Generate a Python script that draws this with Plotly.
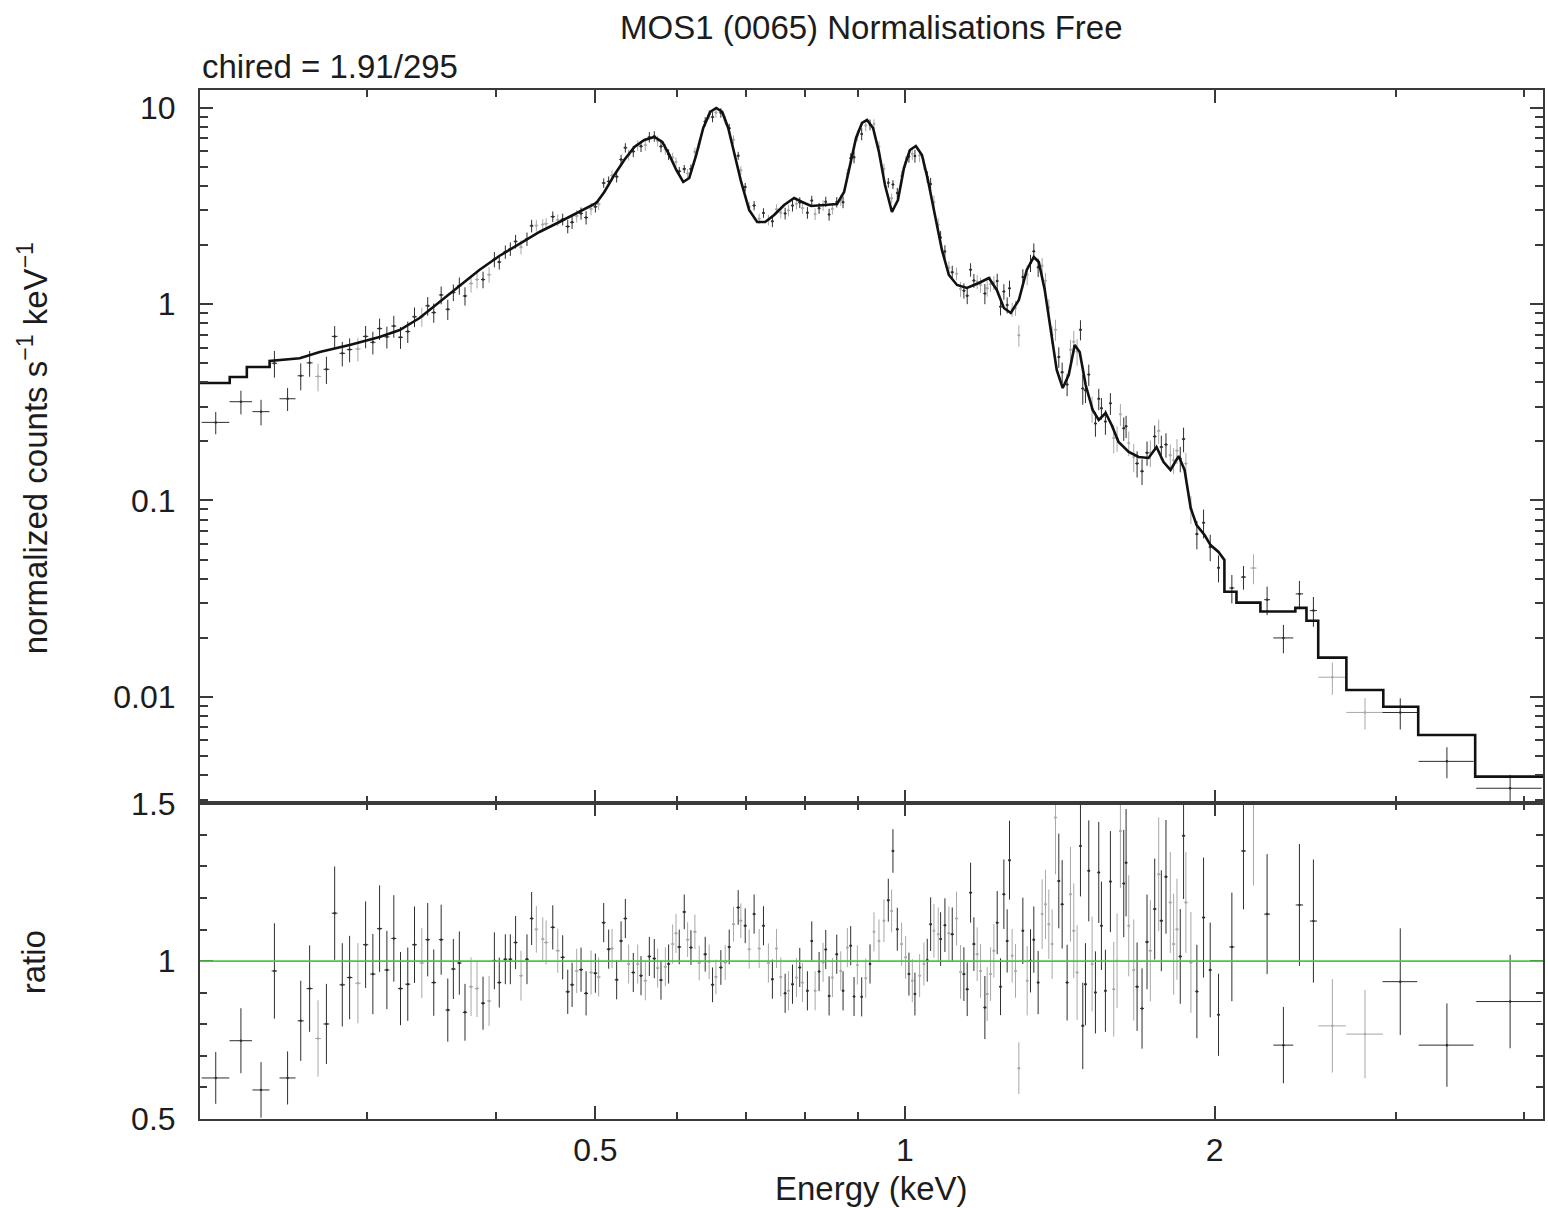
import numpy as np
import plotly.graph_objects as go

# ---------------------------------------------------------------------------
# Folded model (normalized counts s^-1 keV^-1) versus energy (keV)
# ---------------------------------------------------------------------------
MODEL_E = [0.2063, 0.2205, 0.2205, 0.2291, 0.2291, 0.2411, 0.2411, 0.2579, 0.2697, 0.2884,
           0.3084, 0.3226, 0.3373, 0.3527, 0.3689, 0.3856, 0.4032, 0.4219, 0.4411, 0.4613,
           0.4824, 0.5011,
           0.5101, 0.5217, 0.5334, 0.5456, 0.5579, 0.5705, 0.5808, 0.5900, 0.5993, 0.6087,
           0.6170, 0.6267, 0.6366, 0.6466, 0.6554, 0.6642, 0.6732, 0.6823, 0.6930, 0.7055,
           0.7183, 0.7312, 0.7461, 0.7630, 0.7803, 0.7943, 0.8105, 0.8344, 0.8590, 0.8726,
           0.8844, 0.8963, 0.9084, 0.9186, 0.9311, 0.9435, 0.9563, 0.9713, 0.9844, 0.9978,
           1.0112, 1.0247, 1.0388, 1.0528, 1.0694, 1.0863, 1.1034, 1.1236, 1.1487, 1.1800,
           1.2068, 1.2284, 1.2479, 1.2675, 1.2905, 1.3136, 1.3345, 1.3494, 1.3676, 1.3861,
           1.4047, 1.4237, 1.4429, 1.4624, 1.4788, 1.4988, 1.5224, 1.5432, 1.5673, 1.5885,
           1.6133, 1.6505, 1.6876, 1.7254, 1.7565, 1.7843, 1.8124, 1.8455, 1.8703, 1.8961,
           1.9212, 1.9559, 1.9822, 2.0180, 2.0448,
           2.0448, 2.1007, 2.1007, 2.2164, 2.2164, 2.3968, 2.3968, 2.4573,
           2.4573, 2.5228, 2.5228, 2.6869, 2.6869, 2.9184, 2.9184, 3.1558, 3.1558, 3.5851,
           3.5851, 4.1730]
MODEL_V = [0.3966, 0.3966, 0.4256, 0.4256, 0.4786, 0.4786, 0.513, 0.530, 0.5705, 0.619,
           0.680, 0.738, 0.849, 1.025, 1.251, 1.491, 1.757, 2.023, 2.328, 2.618,
           2.944, 3.272,
           3.722, 4.543, 5.417, 6.308, 6.847, 7.092, 6.689, 5.744, 4.818, 4.184,
           4.385, 5.744, 7.881, 9.508, 9.965, 9.508, 7.881, 5.950, 4.184, 3.014,
           2.618, 2.618, 2.842, 3.196, 3.469, 3.311, 3.159, 3.196, 3.234, 3.722,
           5.108, 7.010, 8.358, 8.657, 7.881, 5.950, 4.041, 2.943, 3.388, 4.932,
           6.089, 6.383, 5.744, 4.284, 2.842, 1.886, 1.406, 1.251, 1.208, 1.280,
           1.358, 1.180, 0.955, 0.901, 1.049, 1.491, 1.737, 1.638, 1.180, 0.738,
           0.4618, 0.3739, 0.4355, 0.6193, 0.5704, 0.3873, 0.2889, 0.2570, 0.2790, 0.2423,
           0.1986, 0.1765, 0.1665, 0.1646, 0.1873, 0.1570, 0.1430, 0.1684, 0.1430, 0.0916,
           0.0750, 0.0667, 0.0593, 0.0547, 0.0498,
           0.0343, 0.0343, 0.0302, 0.0302, 0.0272, 0.0272, 0.0284, 0.0284,
           0.0244, 0.0244, 0.01585, 0.01585, 0.01084, 0.01084, 0.00891, 0.00891, 0.0064, 0.0064,
           0.00393, 0.00393]

# ---------------------------------------------------------------------------
# Data set 1 (dark crosses): bin centre (keV), data/model ratio, ratio error,
# bin half-width (keV)
# ---------------------------------------------------------------------------
A_E = [0.2137, 0.2261, 0.2365, 0.2437, 0.2510, 0.2585, 0.2637, 0.2738, 0.2789, 0.2837,
       0.2884, 0.2989, 0.3038, 0.3084, 0.3135, 0.3184, 0.3232, 0.3285, 0.3335, 0.3435,
       0.3482, 0.3540, 0.3593, 0.3638, 0.3687, 0.3734, 0.3888, 0.3988, 0.4032, 0.4087,
       0.4133, 0.4182, 0.4290, 0.4335,
       0.4545, 0.4647, 0.4700, 0.4746, 0.4842, 0.4897, 0.5000, 0.5094, 0.5151, 0.5244,
       0.5296, 0.5347, 0.5443, 0.5538, 0.5642, 0.5705, 0.5791, 0.5891, 0.6033, 0.6101,
       0.6193, 0.6394, 0.6500, 0.6622, 0.6747, 0.6884, 0.6993, 0.7134, 0.7285, 0.7432,
       0.7647, 0.7774, 0.7902, 0.8038, 0.8117, 0.8251, 0.8375, 0.8438, 0.8584, 0.8706,
       0.8856, 0.8923, 0.9077, 0.9248,
       0.9634, 0.9735, 0.9830, 1.0090, 1.0226, 1.0512, 1.0592, 1.0831, 1.0936, 1.1117,
       1.1411, 1.1496, 1.1583, 1.1669, 1.1960, 1.2294, 1.2386, 1.2479, 1.2572, 1.2638,
       1.3021, 1.3246, 1.3345, 1.3475, 1.4113, 1.4219, 1.4378, 1.4814, 1.4891, 1.4980,
       1.5092, 1.5319, 1.5433, 1.5526, 1.5665, 1.5841, 1.6322, 1.6407, 1.6816, 1.7004,
       1.7195, 1.7493, 1.7755, 1.7940, 1.8524, 1.8661, 1.9226, 1.9515, 1.9808, 2.0180,
       2.0792, 2.1340, 2.2499, 2.3336, 2.4188, 2.4957, 3.0314, 3.3653, 3.8768]
A_R = [0.630, 0.748, 0.592, 0.969, 0.630, 0.811, 0.913, 0.801, 1.152, 0.925,
       0.948, 1.052, 0.959, 1.103, 0.972, 1.072, 0.913, 0.927, 1.052, 1.068,
       0.932, 1.068, 0.845, 0.975, 0.994, 0.838, 0.867, 1.001, 0.932, 1.006,
       1.006, 1.059, 1.006, 1.135,
       1.107, 1.012, 0.903, 0.925, 0.973, 0.898, 0.962, 1.122, 1.038, 0.941,
       1.064, 1.135, 0.964, 0.954, 1.015, 1.008, 0.940, 0.991, 1.045, 1.156,
       1.043, 1.022, 0.925, 0.980, 1.045, 1.170, 1.112, 1.149, 1.112, 0.943,
       0.898, 0.927, 0.980, 0.906, 1.064, 0.967, 1.037, 0.890, 1.022, 0.906,
       1.049, 0.888, 0.887, 0.991,
       1.193, 1.349, 1.101, 0.959, 0.896, 1.003, 1.117, 1.070, 1.114, 1.085,
       0.959, 0.911, 1.217, 1.054, 0.853, 1.122, 0.919, 1.212, 1.064, 1.320,
       1.096, 1.001, 1.068, 0.932, 1.254, 1.180, 0.932, 1.365, 0.795, 0.927,
       1.286, 0.901, 1.281, 1.112, 0.906, 1.252, 1.246, 1.312, 0.919, 0.850,
       1.061, 1.165, 1.128, 1.267, 1.015, 1.397, 0.904, 1.138, 0.972, 0.830,
       1.045, 1.349, 1.149, 0.734, 1.178, 1.127, 0.935, 0.734, 0.872]
A_S = [0.082, 0.103, 0.088, 0.151, 0.084, 0.127, 0.137, 0.127, 0.148, 0.132,
       0.132, 0.137, 0.127, 0.137, 0.124, 0.137, 0.116, 0.116, 0.121, 0.116,
       0.105, 0.111, 0.100, 0.095, 0.100, 0.090, 0.084, 0.090, 0.079, 0.079,
       0.079, 0.084, 0.079, 0.084,
       0.070, 0.070, 0.070, 0.070, 0.070, 0.070, 0.062, 0.062, 0.062, 0.062,
       0.062, 0.062, 0.062, 0.062, 0.062, 0.062, 0.062, 0.062, 0.055, 0.055,
       0.055, 0.055, 0.055, 0.055, 0.055, 0.055, 0.055, 0.062, 0.062, 0.062,
       0.062, 0.062, 0.062, 0.062, 0.062, 0.062, 0.062, 0.062, 0.062, 0.062,
       0.062, 0.062, 0.062, 0.062,
       0.068, 0.069, 0.068, 0.068, 0.068, 0.068, 0.085, 0.085, 0.085, 0.085,
       0.085, 0.085, 0.095, 0.085, 0.100, 0.100, 0.090, 0.110, 0.100, 0.125,
       0.105, 0.100, 0.105, 0.100, 0.150, 0.140, 0.120, 0.160, 0.137, 0.130,
       0.160, 0.130, 0.160, 0.140, 0.130, 0.160, 0.170, 0.170, 0.140, 0.127,
       0.150, 0.160, 0.160, 0.180, 0.150, 0.200, 0.148, 0.190, 0.150, 0.130,
       0.172, 0.185, 0.190, 0.121, 0.193, 0.195, 0.169, 0.132, 0.148]
A_W = [0.0066, 0.0057, 0.0045, 0.0015, 0.0045, 0.0018, 0.0018, 0.0018, 0.0018, 0.0018,
       0.0018, 0.0018, 0.0018, 0.0018, 0.0018, 0.0018, 0.0018, 0.0018, 0.0018, 0.0018,
       0.0018, 0.0018, 0.0018, 0.0018, 0.0018, 0.0018, 0.0018, 0.0018, 0.0018, 0.0018,
       0.0018, 0.0018, 0.0018, 0.0018,
       0.0022, 0.0022, 0.0022, 0.0022, 0.0022, 0.0022, 0.0022, 0.0022, 0.0022, 0.0022,
       0.0022, 0.0022, 0.0022, 0.0022, 0.0022, 0.0022, 0.0022, 0.0022, 0.0025, 0.0025,
       0.0025, 0.0025, 0.0025, 0.0025, 0.0025, 0.0025, 0.0025, 0.0025, 0.0025, 0.0025,
       0.0025, 0.0025, 0.0025, 0.0025, 0.0025, 0.0025, 0.0025, 0.0025, 0.0025, 0.0025,
       0.0025, 0.0025, 0.0025, 0.0025,
       0.003, 0.003, 0.003, 0.003, 0.003, 0.003, 0.003, 0.003, 0.003, 0.004,
       0.004, 0.004, 0.004, 0.004, 0.004, 0.004, 0.004, 0.004, 0.004, 0.004,
       0.004, 0.004, 0.004, 0.004, 0.005, 0.005, 0.005, 0.005, 0.005, 0.005,
       0.005, 0.005, 0.005, 0.005, 0.005, 0.005, 0.005, 0.005, 0.007, 0.007,
       0.007, 0.007, 0.007, 0.007, 0.007, 0.007, 0.007, 0.007, 0.007, 0.007,
       0.012, 0.012, 0.015, 0.052, 0.020, 0.020, 0.118, 0.207, 0.283]

# ---------------------------------------------------------------------------
# Data set 2 (light crosses)
# ---------------------------------------------------------------------------
B_E = [0.2687, 0.2938, 0.3390, 0.3785, 0.3836, 0.3941, 0.4233, 0.4381, 0.4444,
       0.4478, 0.4596, 0.4795, 0.4952, 0.5037, 0.5190, 0.5387, 0.5497, 0.5592, 0.5748,
       0.5848, 0.5944, 0.5989, 0.6147, 0.6248, 0.6309, 0.6451, 0.6549, 0.6687, 0.6812,
       0.6925, 0.7055, 0.7215, 0.7366, 0.7500, 0.7573, 0.7704, 0.7843, 0.7949, 0.8178,
       0.8325, 0.8501, 0.8661, 0.8790, 0.8989, 0.9159, 0.9330,
       0.9435, 0.9541, 0.9706, 0.9925, 1.0015, 1.0166, 1.0334, 1.0434, 1.0670, 1.0774,
       1.1034, 1.1225, 1.1326, 1.1756, 1.1845, 1.2022, 1.2113, 1.2203, 1.2713, 1.2809,
       1.2905, 1.3148, 1.3596, 1.3698, 1.3800, 1.3904, 1.4008, 1.4486, 1.4594, 1.4703,
       1.5205, 1.5960, 1.6079, 1.6200, 1.6505, 1.6690, 1.7324, 1.7650, 1.8115, 1.8250,
       1.8387, 1.8758, 1.8970,
       2.1823, 2.6039, 2.8013]
B_R = [0.755, 0.930, 0.994, 0.919, 0.913, 0.874, 0.954, 1.101, 1.070,
       1.059, 1.033, 0.969, 0.964, 0.950, 1.040, 0.991, 0.991, 0.938, 0.978,
       0.982, 1.054, 1.088, 1.068, 1.093, 0.994, 0.998, 0.950, 0.996, 1.117,
       1.128, 1.038, 1.040, 0.994, 1.040, 0.950, 0.906, 0.948, 0.932, 0.906,
       0.996, 0.948, 0.969, 1.043, 0.988, 0.946, 1.093,
       1.064, 1.128, 1.159, 1.054, 1.012, 0.938, 0.954, 0.991, 1.096, 1.085,
       1.088, 1.135, 0.966, 1.022, 0.969, 0.896, 0.959, 1.033, 1.017, 0.969,
       0.661, 0.938, 1.149, 1.180, 1.117, 1.054, 1.455, 1.212, 1.096, 0.964,
       0.991, 0.911, 1.001, 1.412, 1.112, 0.972, 1.033, 1.275, 1.186, 1.054,
       1.101, 1.186, 0.996,
       1.500, 0.795, 0.769]
B_S = [0.121, 0.127, 0.111, 0.093, 0.090, 0.079, 0.079, 0.074, 0.069,
       0.070, 0.070, 0.070, 0.070, 0.062, 0.062, 0.062, 0.062, 0.062, 0.062,
       0.062, 0.062, 0.062, 0.055, 0.055, 0.055, 0.055, 0.055, 0.055, 0.055,
       0.055, 0.062, 0.062, 0.062, 0.062, 0.062, 0.062, 0.062, 0.062, 0.062,
       0.062, 0.062, 0.062, 0.062, 0.062, 0.062, 0.062,
       0.068, 0.068, 0.068, 0.068, 0.068, 0.068, 0.068, 0.068, 0.085, 0.085,
       0.085, 0.085, 0.085, 0.085, 0.085, 0.085, 0.085, 0.085, 0.085, 0.085,
       0.082, 0.110, 0.110, 0.110, 0.110, 0.110, 0.180, 0.150, 0.150, 0.150,
       0.150, 0.150, 0.150, 0.180, 0.160, 0.160, 0.160, 0.180, 0.160, 0.160,
       0.160, 0.160, 0.160,
       0.260, 0.148, 0.140]
B_W = [0.0018, 0.0018, 0.0018, 0.0018, 0.0018, 0.0018, 0.0018, 0.0018, 0.0018,
       0.0022, 0.0022, 0.0022, 0.0022, 0.0022, 0.0022, 0.0022, 0.0022, 0.0022, 0.0022,
       0.0022, 0.0022, 0.0022, 0.0025, 0.0025, 0.0025, 0.0025, 0.0025, 0.0025, 0.0025,
       0.0025, 0.0025, 0.0025, 0.0025, 0.0025, 0.0025, 0.0025, 0.0025, 0.0025, 0.0025,
       0.0025, 0.0025, 0.0025, 0.0025, 0.0025, 0.0025, 0.0025,
       0.003, 0.003, 0.003, 0.003, 0.003, 0.003, 0.003, 0.003, 0.003, 0.003,
       0.004, 0.004, 0.004, 0.004, 0.004, 0.004, 0.004, 0.004, 0.004, 0.004,
       0.004, 0.004, 0.004, 0.004, 0.004, 0.004, 0.005, 0.005, 0.005, 0.005,
       0.005, 0.005, 0.005, 0.005, 0.005, 0.005, 0.007, 0.007, 0.007, 0.007,
       0.007, 0.007, 0.007,
       0.015, 0.080, 0.115]

X_TICKS = [0.5, 1, 2]
X_MINOR = [0.3, 0.4, 0.6, 0.7, 0.8, 0.9, 3, 4]
Y_TICKS = [0.01, 0.1, 1, 10]
Y_MINOR = [m * 10.0 ** k for k in (-3, -2, -1, 0) for m in range(2, 10)
           if 0.0028 < m * 10.0 ** k < 12.3]
R_TICKS = [0.5, 1, 1.5]
R_MINOR = [0.6, 0.7, 0.8, 0.9, 1.1, 1.2, 1.3, 1.4]

TITLE = "MOS1 (0065) Normalisations Free"
SUBTITLE = "chired = 1.91/295"

FONT = "Liberation Sans, Arial, Helvetica, sans-serif"
INK = "#1c1c1c"
FRAME = "#3a3a3a"
DARK = "#2e2e2e"
LIGHT = "#a8a8a8"

log_me = np.log10(MODEL_E)
log_mv = np.log10(MODEL_V)


def model_at(e):
    return 10 ** np.interp(np.log10(e), log_me, log_mv)


fig = go.Figure()

for E, R, S, W, col in ((B_E, B_R, B_S, B_W, LIGHT), (A_E, A_R, A_S, A_W, DARK)):
    E = np.array(E); R = np.array(R); S = np.array(S); W = np.array(W)
    M = model_at(E)
    # upper panel: counts = ratio * model
    fig.add_trace(go.Scatter(
        x=E, y=R * M, mode="markers", xaxis="x2", yaxis="y2",
        marker=dict(size=2.5, color=col),
        error_y=dict(type="data", array=S * M, color=col, thickness=1, width=0),
        error_x=dict(type="data", array=W, color=col, thickness=1, width=0),
        showlegend=False, hoverinfo="skip"))
    # lower panel: ratio
    fig.add_trace(go.Scatter(
        x=E, y=R, mode="markers", xaxis="x", yaxis="y",
        marker=dict(size=2.5, color=col),
        error_y=dict(type="data", array=S, color=col, thickness=1, width=0),
        error_x=dict(type="data", array=W, color=col, thickness=1, width=0),
        showlegend=False, hoverinfo="skip"))

fig.add_trace(go.Scatter(
    x=MODEL_E, y=MODEL_V, mode="lines", xaxis="x2", yaxis="y2",
    line=dict(color="#111111", width=2.6), showlegend=False, hoverinfo="skip"))

split = 315.7 / 1029.0
xr = [np.log10(0.2063), np.log10(4.173)]

axis_common = dict(
    showline=True, linecolor=FRAME, linewidth=2, mirror="ticks",
    ticks="inside", tickcolor=FRAME, tickwidth=1.5,
    showgrid=False, zeroline=False,
    tickfont=dict(family=FONT, size=32, color=INK),
)

fig.update_layout(
    width=1548, height=1208,
    margin=dict(l=200, r=3, t=90, b=89),
    paper_bgcolor="white", plot_bgcolor="white",
    xaxis=dict(axis_common, type="log", range=xr, domain=[0, 1], anchor="y",
               tickmode="array", tickvals=X_TICKS, ticktext=[str(v) for v in X_TICKS],
               ticklen=13, ticklabelstandoff=2,
               minor=dict(tickmode="array", tickvals=X_MINOR, ticks="inside",
                          ticklen=7, tickwidth=1.5, tickcolor=FRAME)),
    yaxis=dict(axis_common, type="linear", range=[0.5, 1.5], domain=[0, split], anchor="x",
               tickmode="array", tickvals=R_TICKS, ticktext=["0.5", "1", "1.5"],
               ticklen=13, ticklabelstandoff=16,
               minor=dict(tickmode="array", tickvals=R_MINOR, ticks="inside",
                          ticklen=7, tickwidth=1.5, tickcolor=FRAME)),
    xaxis2=dict(axis_common, type="log", range=xr, domain=[0, 1], anchor="y2", matches="x",
                tickmode="array", tickvals=X_TICKS, showticklabels=False, ticklen=13,
                minor=dict(tickmode="array", tickvals=X_MINOR, ticks="inside",
                           ticklen=7, tickwidth=1.5, tickcolor=FRAME)),
    yaxis2=dict(axis_common, type="log", range=[np.log10(0.002873), np.log10(12.3)],
                domain=[split, 1], anchor="x2",
                tickmode="array", tickvals=Y_TICKS, ticktext=["0.01", "0.1", "1", "10"],
                ticklen=13, ticklabelstandoff=16,
                minor=dict(tickmode="array", tickvals=Y_MINOR, ticks="inside",
                           ticklen=8, tickwidth=1.5, tickcolor=FRAME)),
    shapes=[dict(type="line", xref="x domain", yref="y", x0=0, x1=1, y0=1, y1=1,
                 line=dict(color="rgb(70,200,70)", width=1.6), layer="above")],
)


def px_x(px):
    return (px - 200) / 1345.0


def px_y(py):
    return (1119 - py) / 1029.0


text_font = dict(family=FONT, size=33, color=INK)
fig.add_annotation(text=TITLE, xref="paper", yref="paper", x=px_x(872), y=px_y(28),
                   xanchor="center", yanchor="middle", showarrow=False, font=text_font)
fig.add_annotation(text=SUBTITLE, xref="paper", yref="paper", x=0, y=px_y(66),
                   xanchor="left", yanchor="middle", showarrow=False, font=text_font)
fig.add_annotation(text="normalized counts s<sup>\u22121</sup> keV<sup>\u22121</sup>",
                   xref="paper", yref="paper", x=px_x(33), y=px_y(448), textangle=-90,
                   xanchor="center", yanchor="middle", showarrow=False, font=text_font)
fig.add_annotation(text="ratio", xref="paper", yref="paper", x=px_x(33), y=px_y(962),
                   textangle=-90, xanchor="center", yanchor="middle", showarrow=False,
                   font=text_font)
fig.add_annotation(text="Energy (keV)", xref="paper", yref="paper", x=px_x(873),
                   y=px_y(1188), xanchor="center", yanchor="middle", showarrow=False,
                   font=text_font)

fig.write_html("out.html")
